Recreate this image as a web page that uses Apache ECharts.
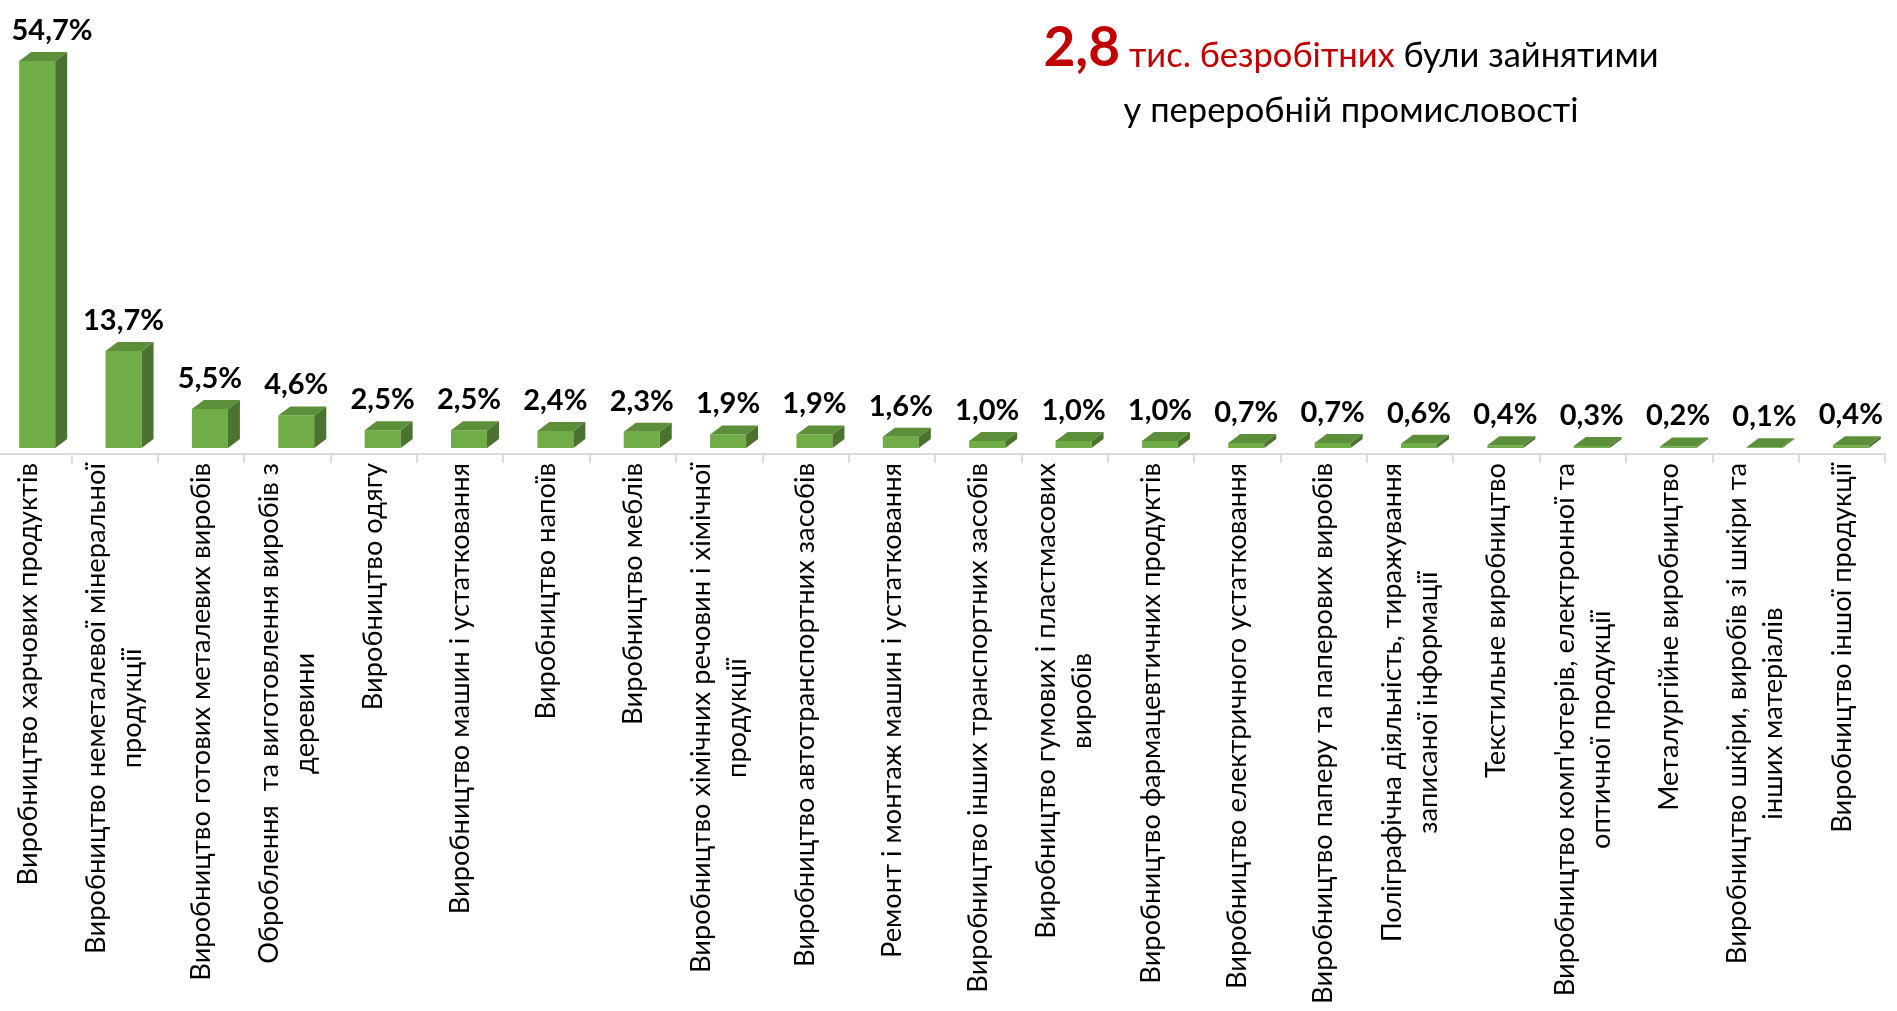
<!DOCTYPE html>
<html>
<head>
<meta charset="utf-8">
<script src="https://cdn.jsdelivr.net/npm/echarts@6/dist/echarts.min.js"></script>
<style>
  html, body { margin: 0; padding: 0; background: #fff; }
  #chart { width: 1897px; height: 1011px; }
</style>
</head>
<body>
<div id="chart"></div>
<script>
// категорії переробної промисловості (\n — перенос рядка як в оригіналі)
const categories = [
    "Виробництво харчових продуктів",
    "Виробництво неметалевої мінеральної\nпродукції",
    "Виробництво готових металевих виробів",
    "Оброблення  та виготовлення виробів з\nдеревини",
    "Виробництво одягу",
    "Виробництво машин і устатковання",
    "Виробництво напоїв",
    "Виробництво меблів",
    "Виробництво хімічних речовин і хімічної\nпродукції",
    "Виробництво автотранспортних засобів",
    "Ремонт і монтаж машин і устатковання",
    "Виробництво інших транспортних засобів",
    "Виробництво гумових і пластмасових\nвиробів",
    "Виробництво фармацевтичних продуктів",
    "Виробництво електричного устатковання",
    "Виробництво паперу та паперових виробів",
    "Поліграфічна діяльність, тиражування\nзаписаної інформації",
    "Текстильне виробництво",
    "Виробництво комп'ютерів, електронної та\nоптичної продукції",
    "Металургійне виробництво",
    "Виробництво шкіри, виробів зі шкіри та\nінших матеріалів",
    "Виробництво іншої продукції"
];
// частка, %
const shares = [54.7, 13.7, 5.5, 4.6, 2.5, 2.5, 2.4, 2.3, 1.9, 1.9, 1.6, 1.0, 1.0, 1.0, 0.7, 0.7, 0.6, 0.4, 0.3, 0.2, 0.1, 0.4];

const titleNumber = "2,8";
const titleRed = "тис. безробітних";
const titleBlack = "були зайнятими";
const titleLine2 = "у переробній промисловості";

const FONT = 'Lato, "Open Sans", sans-serif';
const CAT_SIZE = 27.3;
const CAT_LH = 36;

const measureCtx = document.createElement("canvas").getContext("2d");
measureCtx.font = CAT_SIZE + "px " + FONT;
function textWidth(s) { return measureCtx.measureText(s).width; }

const fmt = v => v.toFixed(1).replace(".", ",") + "%";

const chart = echarts.init(document.getElementById("chart"));

function renderBar(params, api) {
    const i = api.value(0);
    const v = api.value(1);
    const base = api.coord([i, 0]);
    const top = api.coord([i, v]);
    const cx = base[0];
    const axisY = base[1];
    // "підлога" 3D-діаграми трохи вище осі
    const y0 = axisY - 6;
    const yv = top[1] - 6;
    const fx1 = cx - 9, fx2 = cx + 27;
    const dx = 12, dy = 9;

    const children = [
        { type: "rect", shape: { x: fx1, y: yv, width: fx2 - fx1, height: y0 - yv }, style: { fill: "#70ad47" } },
        { type: "polygon", shape: { points: [[fx2, y0], [fx2, yv], [fx2 + dx, yv - dy], [fx2 + dx, y0 - dy]] }, style: { fill: "#4c7230" } },
        { type: "polygon", shape: { points: [[fx1, yv], [fx2, yv], [fx2 + dx, yv - dy], [fx1 + dx, yv - dy]] }, style: { fill: "#5d8f3b" } }
    ];

    // підпис значення
    let lx = (fx1 + fx2) / 2;
    if (lx < 52) lx = 52;
    children.push({
        type: "text",
        style: {
            x: lx, y: yv - 16, text: fmt(v),
            align: "center", verticalAlign: "bottom",
            font: "bold 29px " + FONT, fill: "#000"
        }
    });

    // підпис категорії, повернутий на 90°
    const lines = categories[i].split("\n");
    const maxW = Math.max(...lines.map(textWidth));
    children.push({
        type: "text",
        x: cx, y: axisY + 9 + maxW / 2,
        rotation: Math.PI / 2,
        style: {
            x: 0, y: 0, text: categories[i],
            align: "center", verticalAlign: "middle",
            font: CAT_SIZE + "px " + FONT, lineHeight: CAT_LH, fill: "#000"
        }
    });

    return { type: "group", children: children };
}

chart.setOption({
    animation: false,
    grid: { left: -15, right: 12, top: 29.5, bottom: 557, outerBoundsMode: "none", containLabel: false },
    xAxis: {
        type: "category",
        data: categories,
        axisLine: { lineStyle: { color: "#d9dde3", width: 2 } },
        axisTick: { show: true, interval: 0, length: 9, lineStyle: { color: "#d9dde3", width: 2 } },
        axisLabel: { show: false }
    },
    yAxis: { type: "value", min: 0, max: 60, show: false, splitLine: { show: false } },
    graphic: [
        {
            type: "text", x: 1351, y: 76,
            style: {
                x: 0, y: 0, align: "center", verticalAlign: "bottom",
                text: "{n|" + titleNumber + "}{r| " + titleRed + "}{b| " + titleBlack + "}",
                rich: {
                    n: { font: "bold 55px " + FONT, fill: "#c00000", verticalAlign: "bottom" },
                    r: { font: "34.5px " + FONT, fill: "#c00000", verticalAlign: "bottom", padding: [0, 0, 3, 0] },
                    b: { font: "34.5px " + FONT, fill: "#000", verticalAlign: "bottom", padding: [0, 0, 3, 0] }
                }
            }
        },
        {
            type: "text", x: 1351, y: 128,
            style: {
                x: 0, y: 0, text: titleLine2,
                align: "center", verticalAlign: "bottom",
                font: "34.5px " + FONT, fill: "#000"
            }
        }
    ],
    series: [{
        type: "custom",
        renderItem: renderBar,
        data: shares.map((v, i) => [i, v]),
        clip: false
    }]
});
</script>
</body>
</html>
